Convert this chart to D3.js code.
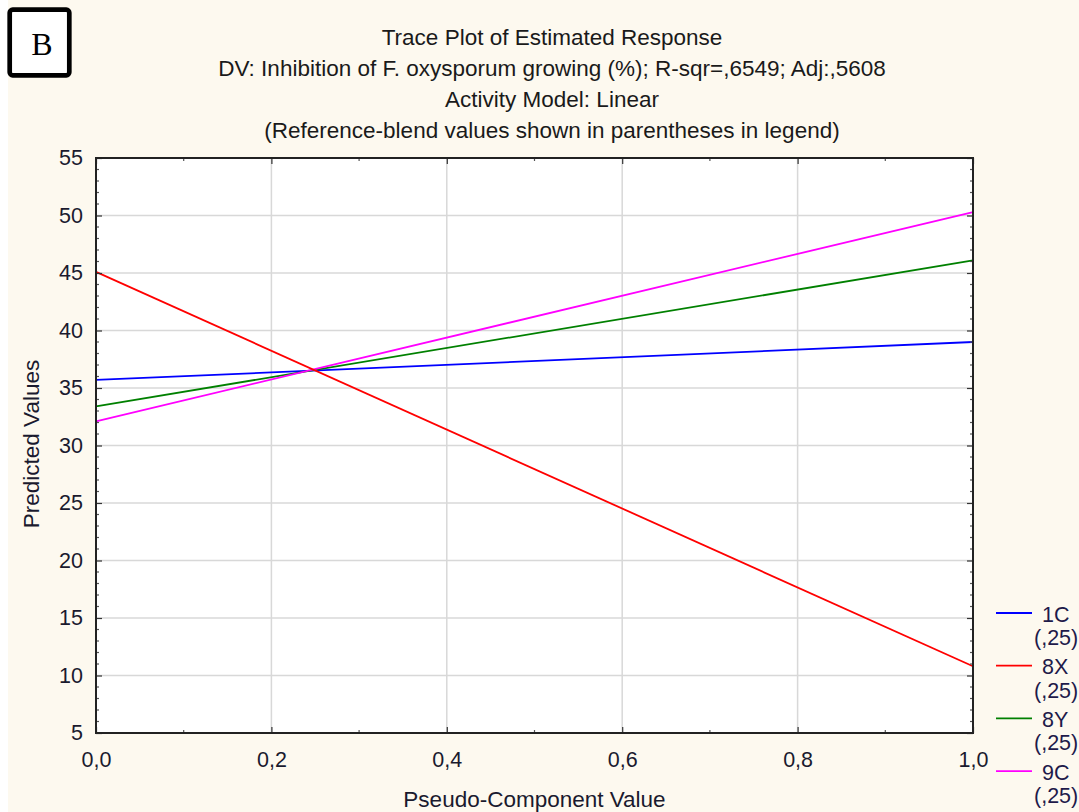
<!DOCTYPE html>
<html>
<head>
<meta charset="utf-8">
<script src="https://cdn.jsdelivr.net/npm/d3@7"></script>
<style>
  html, body { margin: 0; padding: 0; background: #ffffff; }
  svg { display: block; }
</style>
</head>
<body>
<svg id="chart" width="1079" height="812"></svg>
<script>
// ---- data ----
const xValues = [0, 1];
const seriesNames = ["1C", "8X", "8Y", "9C"];
const seriesRefLabels = ["(,25)", "(,25)", "(,25)", "(,25)"];
const series1C = [35.7, 39.0];
const series8X = [45.1, 10.8];
const series8Y = [33.4, 46.1];
const series9C = [32.1, 50.3];
const seriesColors = ["#0000ff", "#ff0000", "#008000", "#ff00ff"];
const yTicks = [5, 10, 15, 20, 25, 30, 35, 40, 45, 50, 55];
const xTicks = [0, 0.2, 0.4, 0.6, 0.8, 1.0];
const titleLines = [
  "Trace Plot of Estimated Response",
  "DV: Inhibition of F. oxysporum growing (%); R-sqr=,6549; Adj:,5608",
  "Activity Model: Linear",
  "(Reference-blend values shown in parentheses in legend)"
];
const xAxisTitle = "Pseudo-Component Value";
const yAxisTitle = "Predicted Values";
const panelLabel = "B";

const allSeries = [series1C, series8X, series8Y, series9C];

// ---- layout ----
const SANS = "'Liberation Sans', Arial, sans-serif";
const SERIF = "'Liberation Serif', 'Times New Roman', serif";
const svg = d3.select("#chart").style("font-family", SANS);
const W = 1079, H = 812;
const plot = { left: 96, right: 973, top: 158, bottom: 733 };

svg.append("rect").attr("x", 8).attr("y", 0).attr("width", W - 8).attr("height", H)
  .attr("fill", "#fdf9ef");

const x = d3.scaleLinear().domain([0, 1]).range([plot.left, plot.right]);
const y = d3.scaleLinear().domain([5, 55]).range([plot.bottom, plot.top]);

// plot background
svg.append("rect").attr("x", plot.left).attr("y", plot.top)
  .attr("width", plot.right - plot.left).attr("height", plot.bottom - plot.top)
  .attr("fill", "#ffffff");

// grid
const grid = svg.append("g");
grid.selectAll(".gx").data(xTicks.slice(1, -1)).enter().append("line")
  .attr("x1", d => x(d)).attr("x2", d => x(d))
  .attr("y1", plot.top).attr("y2", plot.bottom)
  .attr("stroke", "#d8d8d8").attr("stroke-width", 1.5);
grid.selectAll(".gy").data(yTicks.slice(1, -1)).enter().append("line")
  .attr("x1", plot.left).attr("x2", plot.right)
  .attr("y1", d => y(d)).attr("y2", d => y(d))
  .attr("stroke", "#d8d8d8").attr("stroke-width", 1.5);

// series lines
const line = d3.line().x((d, i) => x(xValues[i])).y(d => y(d));
const order = [0, 2, 3, 1];
order.forEach(k => {
  svg.append("path").datum(allSeries[k])
    .attr("d", line).attr("fill", "none")
    .attr("stroke", seriesColors[k]).attr("stroke-width", 1.8);
});

// axes (ticks inside, minor ticks)
const tickColor = "#333";
const yMinor = d3.range(5, 55.01, 1).filter(v => v % 5 !== 0);
const xMinor = d3.range(0.1, 1, 0.2);

const axL = d3.axisLeft(y).tickValues(yTicks).tickSize(-6).tickPadding(13).tickFormat(d3.format("d"));
const axR = d3.axisRight(y).tickValues(yTicks).tickSize(-6).tickFormat("");
const axB = d3.axisBottom(x).tickValues(xTicks).tickSize(-6).tickPadding(19)
  .tickFormat(d => d3.format(".1f")(d).replace(".", ","));
const axT = d3.axisTop(x).tickValues(xTicks).tickSize(-6).tickFormat("");

function styleAxis(g) {
  g.select(".domain").remove();
  g.selectAll(".tick line").attr("stroke", tickColor).attr("stroke-width", 1.2);
  g.selectAll("text").attr("fill", "#1a1a2e").attr("font-size", 21.5)
    .style("font-family", SANS);
}
svg.append("g").attr("transform", `translate(${plot.left},0)`).call(axL).call(styleAxis);
svg.append("g").attr("transform", `translate(${plot.right},0)`).call(axR).call(styleAxis);
svg.append("g").attr("transform", `translate(0,${plot.bottom})`).call(axB).call(styleAxis);
svg.append("g").attr("transform", `translate(0,${plot.top})`).call(axT).call(styleAxis);

const minorG = svg.append("g").attr("stroke", "#555").attr("stroke-width", 1.2);
yMinor.forEach(v => {
  minorG.append("line").attr("x1", plot.left).attr("x2", plot.left + 3).attr("y1", y(v)).attr("y2", y(v));
  minorG.append("line").attr("x1", plot.right - 3).attr("x2", plot.right).attr("y1", y(v)).attr("y2", y(v));
});
xMinor.forEach(v => {
  minorG.append("line").attr("x1", x(v)).attr("x2", x(v)).attr("y1", plot.bottom).attr("y2", plot.bottom - 3);
  minorG.append("line").attr("x1", x(v)).attr("x2", x(v)).attr("y1", plot.top).attr("y2", plot.top + 3);
});

// border
svg.append("rect").attr("x", plot.left).attr("y", plot.top)
  .attr("width", plot.right - plot.left).attr("height", plot.bottom - plot.top)
  .attr("fill", "none").attr("stroke", "#222").attr("stroke-width", 2);

// titles
const titleG = svg.append("g").attr("text-anchor", "middle").attr("fill", "#1a1a1a").attr("font-size", 22.5);
titleLines.forEach((t, i) => {
  titleG.append("text").attr("x", 552).attr("y", 45 + i * 31).text(t);
});

svg.append("text").attr("x", x(0.5)).attr("y", 807).attr("text-anchor", "middle")
  .attr("font-size", 22.5).attr("fill", "#1a1a2e").text(xAxisTitle);
svg.append("text").attr("transform", `translate(39,444) rotate(-90)`)
  .attr("text-anchor", "middle").attr("font-size", 22.5).attr("fill", "#1a1a2e").text(yAxisTitle);

// legend
const legG = svg.append("g");
seriesNames.forEach((name, i) => {
  const ly = 613 + i * 52.7;
  legG.append("line").attr("x1", 996).attr("x2", 1032).attr("y1", ly).attr("y2", ly)
    .attr("stroke", seriesColors[i]).attr("stroke-width", 1.8);
  legG.append("text").attr("x", 1042).attr("y", ly + 8.5).attr("font-size", 21.5)
    .attr("fill", "#1e1a4a").text(name);
  legG.append("text").attr("x", 1034).attr("y", ly + 32).attr("font-size", 21.5)
    .attr("fill", "#1e1a4a").text(seriesRefLabels[i]);
});

// panel label
svg.append("rect").attr("x", 9.7).attr("y", 9.7).attr("width", 59.6).attr("height", 65.6)
  .attr("rx", 3).attr("fill", "#ffffff").attr("stroke", "#000").attr("stroke-width", 4.7);
svg.append("text").attr("x", 42).attr("y", 55).attr("text-anchor", "middle")
  .style("font-family", SERIF).attr("font-size", 32)
  .attr("fill", "#000").text(panelLabel);
</script>
</body>
</html>
